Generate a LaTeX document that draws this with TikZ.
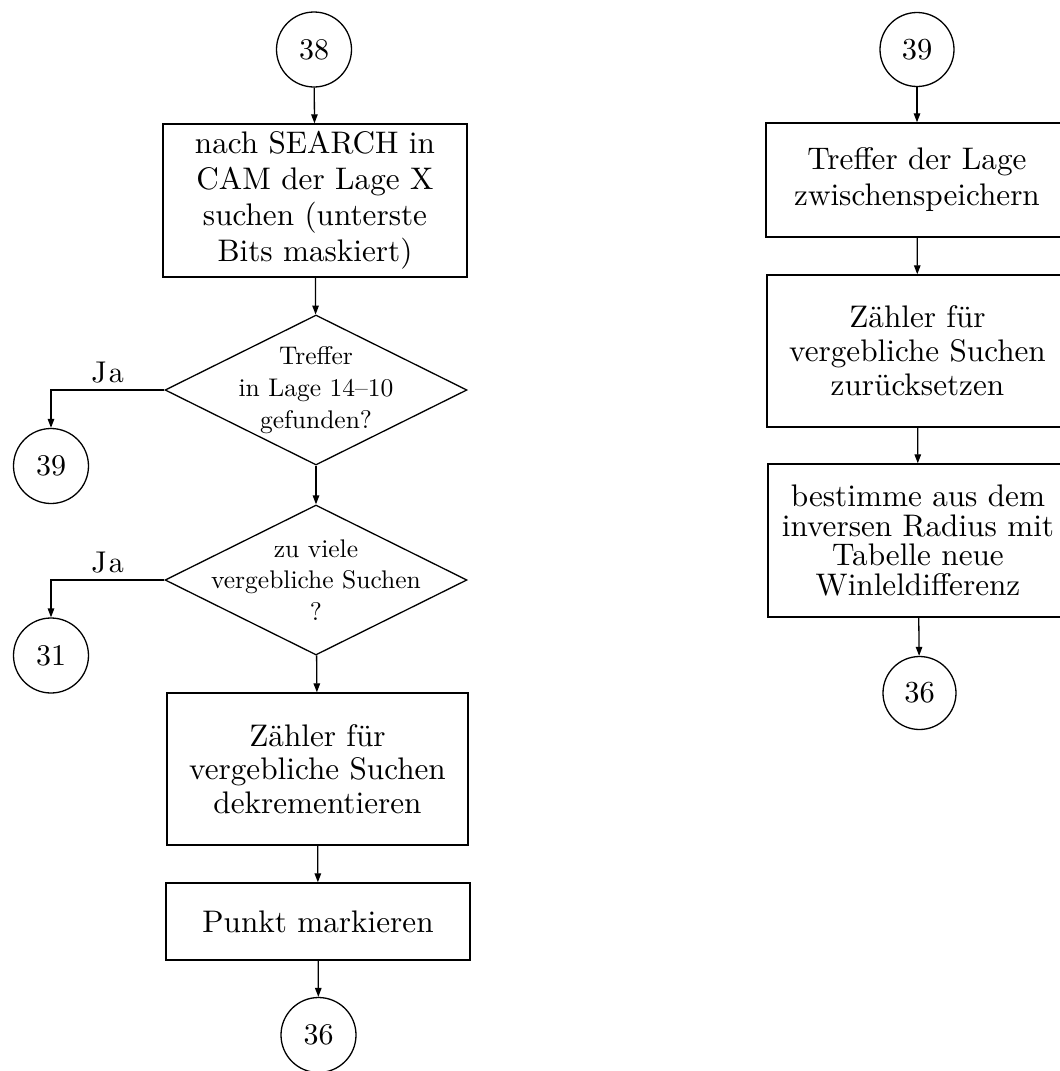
\documentclass[tikz,border=0pt]{standalone}
\usepackage{graphicx}
\usetikzlibrary{shapes.geometric,arrows.meta}

% zero-size wrapper: content is centred on the node's reference point
\newcommand\ctr[1]{\hbox to 0pt{\hss\vbox to 0pt{\vss\hbox{#1}\vss}\hss}}
% centred stack of lines (separated by \cr), scaled, with a given line pitch
\newcommand\stk[3]{\scalebox{#1}{\vbox{\baselineskip=#2\lineskiplimit=-\maxdimen\lineskip=0pt\halign{\hfil##\hfil\cr#3\crcr}}}}

\tikzset{
  proc/.style={draw, rectangle, line width=1.4pt, inner sep=0pt},
  dec/.style={draw, diamond, line width=1.3pt, inner sep=0pt},
  conn/.style={draw, circle, line width=1.3pt, inner sep=0pt, minimum size=75pt},
  arr/.style={line width=1.3pt, -{Triangle[length=9pt,width=6.5pt]}},
  jalabel/.style={anchor=base, inner sep=0pt, yshift=8pt}
}

\begin{document}
\begin{tikzpicture}[x=1pt,y=-1pt]
  \path[use as bounding box] (0,0) rectangle (1060,1071);
  \clip (0,0) rectangle (1060,1071);
  \fill[white] (0,0) rectangle (1060,1071);

  % ---------- left flow ----------
  \node[conn] (c38) at (314,49.5) {\scalebox{3}{38}};
  \node[proc, minimum width=304pt, minimum height=153pt] (b1) at (315,200.5)
    {\ctr{\stk{3.12}{11.54pt}{nach SEARCH in\cr CAM der Lage X\cr suchen (unterste\cr Bits maskiert)}}};
  \node[dec, minimum width=302pt, minimum height=150pt] (d1) at (316,390)
    {\ctr{\stk{2.55}{12.5pt}{Treffer\cr in Lage 14–10\cr gefunden?}}};
  \node[dec, minimum width=302pt, minimum height=150pt] (d2) at (316,580)
    {\ctr{\stk{2.55}{12.35pt}{zu viele\cr vergebliche Suchen\cr ?}}};
  \node[proc, minimum width=301pt, minimum height=152pt] (b2) at (317.5,769)
    {\ctr{\stk{3.12}{10.74pt}{Zähler für\cr vergebliche Suchen\cr dekrementieren}}};
  \node[proc, minimum width=304pt, minimum height=77pt] (b3) at (318,921.5)
    {\ctr{\stk{3.12}{11pt}{Punkt markieren}}};
  \node[conn] (c36) at (318.5,1035) {\scalebox{3}{36}};

  \node[conn] (c39a) at (51,466) {\scalebox{3}{39}};
  \node[conn] (c31) at (51,655.5) {\scalebox{3}{31}};

  \draw[arr] (c38) -- (b1);
  \draw[arr] (b1) -- (d1);
  \draw[arr] (d1) -- (d2);
  \draw[arr] (d2) -- (b2);
  \draw[arr] (b2) -- (b3);
  \draw[arr] (b3) -- (c36);

  \draw[arr] (d1.west) -| node[jalabel, pos=0.25] (ja1) {\scalebox{3}{J\kern.7pt a}} (c39a.north);
  \draw[arr] (d2.west) -| node[jalabel, pos=0.25] (ja2) {\scalebox{3}{J\kern.7pt a}} (c31.north);

  % ---------- right flow ----------
  \node[conn, minimum size=74pt] (c39b) at (917,49.5) {\scalebox{3.05}{39}};
  \node[proc, minimum width=302pt, minimum height=114pt] (r1) at (917,180)
    {\ctr{\stk{3.12}{11.54pt}{Treffer der Lage\cr zwischenspeichern}}};
  \node[proc, minimum width=301pt, minimum height=152pt] (r2) at (917.5,351)
    {\ctr{\stk{3.12}{10.9pt}{Zähler für\cr vergebliche Suchen\cr zurücksetzen}}};
  \node[proc, minimum width=300pt, minimum height=153pt] (r3) at (918,540.5)
    {\ctr{\stk{3.12}{9.42pt}{bestimme aus dem\cr inversen Radius mit\cr Tabelle neue\cr Winleldifferenz}}};
  \node[conn, minimum size=73pt] (c36b) at (919.5,693) {\scalebox{3.05}{36}};

  \draw[arr] (c39b) -- (r1);
  \draw[arr] (r1) -- (r2);
  \draw[arr] (r2) -- (r3);
  \draw[arr] (r3) -- (c36b);
\end{tikzpicture}
\end{document}
